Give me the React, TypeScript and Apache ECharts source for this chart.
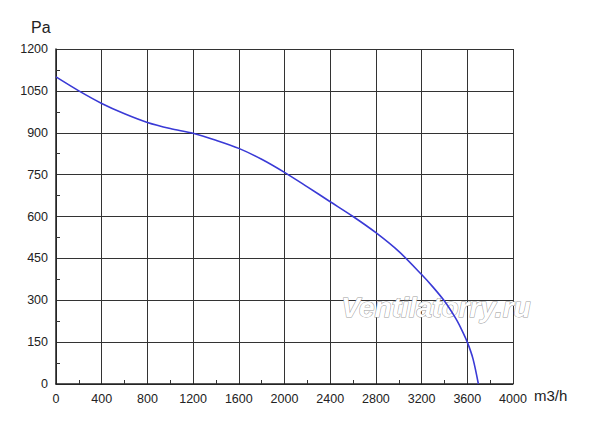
import React, { useEffect, useRef } from "react";
import * as echarts from "echarts";

const flow = [0, 200, 400, 600, 800, 1000, 1200, 1400, 1600, 1800, 2000, 2200, 2400, 2600, 2800, 3000, 3200, 3300, 3400, 3500, 3550, 3600, 3650, 3697];
const pressure = [1100, 1050, 1005, 968, 937, 915, 898, 873, 844, 805, 758, 706, 653, 600, 542, 475, 392, 347, 297, 234, 195, 150, 90, 0];
const xTicks = [0, 4000, 400];
const yTicks = [0, 1200, 150];

export default function App() {
  const ref = useRef<HTMLDivElement>(null);
  useEffect(() => {
    const chart = echarts.init(ref.current!, null, { renderer: "svg" });
    const font = "'Liberation Sans', Arial, sans-serif";
    const fmt = (v: number) => String(v);
    chart.setOption({
      animation: false,
      backgroundColor: "#ffffff",
      grid: { left: 56, right: 87, top: 49, bottom: 42, containLabel: false },
      xAxis: {
        type: "value",
        min: xTicks[0],
        max: xTicks[1],
        interval: xTicks[2],
        axisLine: { show: true, onZero: false, lineStyle: { color: "#222", width: 1.5 } },
        axisTick: { show: false, inside: true },
        minorTick: { show: true, splitNumber: 2, length: 4, lineStyle: { color: "#333", width: 1 } },
        axisLabel: { color: "#222", fontSize: 12.5, fontFamily: font, margin: 8, formatter: fmt },
        splitLine: { show: true, lineStyle: { color: "#333", width: 1 } },
      },
      yAxis: {
        type: "value",
        min: yTicks[0],
        max: yTicks[1],
        interval: yTicks[2],
        axisLine: { show: true, onZero: false, lineStyle: { color: "#222", width: 1.5 } },
        axisTick: { show: false, inside: true },
        minorTick: { show: true, splitNumber: 2, length: 4, lineStyle: { color: "#333", width: 1 } },
        axisLabel: { color: "#222", fontSize: 12.5, fontFamily: font, margin: 8, formatter: fmt },
        splitLine: { show: true, lineStyle: { color: "#333", width: 1 } },
      },
      graphic: [
        {
          type: "text",
          left: 31,
          top: 19,
          style: { text: "Pa", fontSize: 16, fontFamily: font, fill: "#222" },
        },
        {
          type: "text",
          left: 534,
          top: 388,
          style: { text: "m3/h", fontSize: 15, fontFamily: font, fill: "#222" },
        },
        {
          type: "text",
          x: 436,
          y: 321,
          z: 1,
          style: {
            text: "Ventilatorry.ru",
            fontSize: 28,
            fontStyle: "italic",
            fontWeight: "bold",
            fontFamily: font,
            fill: "#ffffff",
            stroke: "#9a9a9a",
            lineWidth: 1,
            align: "center",
            verticalAlign: "bottom",
          },
        },
      ],
      series: [
        {
          type: "line",
          data: flow.map((f, i) => [f, pressure[i]]),
          smooth: 0.3,
          showSymbol: false,
          z: 3,
          lineStyle: { color: "#3a3ad6", width: 1.6 },
        },
      ],
    });
    return () => chart.dispose();
  }, []);
  return <div ref={ref} style={{ width: 600, height: 426, position: "absolute", left: 0, top: 0 }} />;
}
